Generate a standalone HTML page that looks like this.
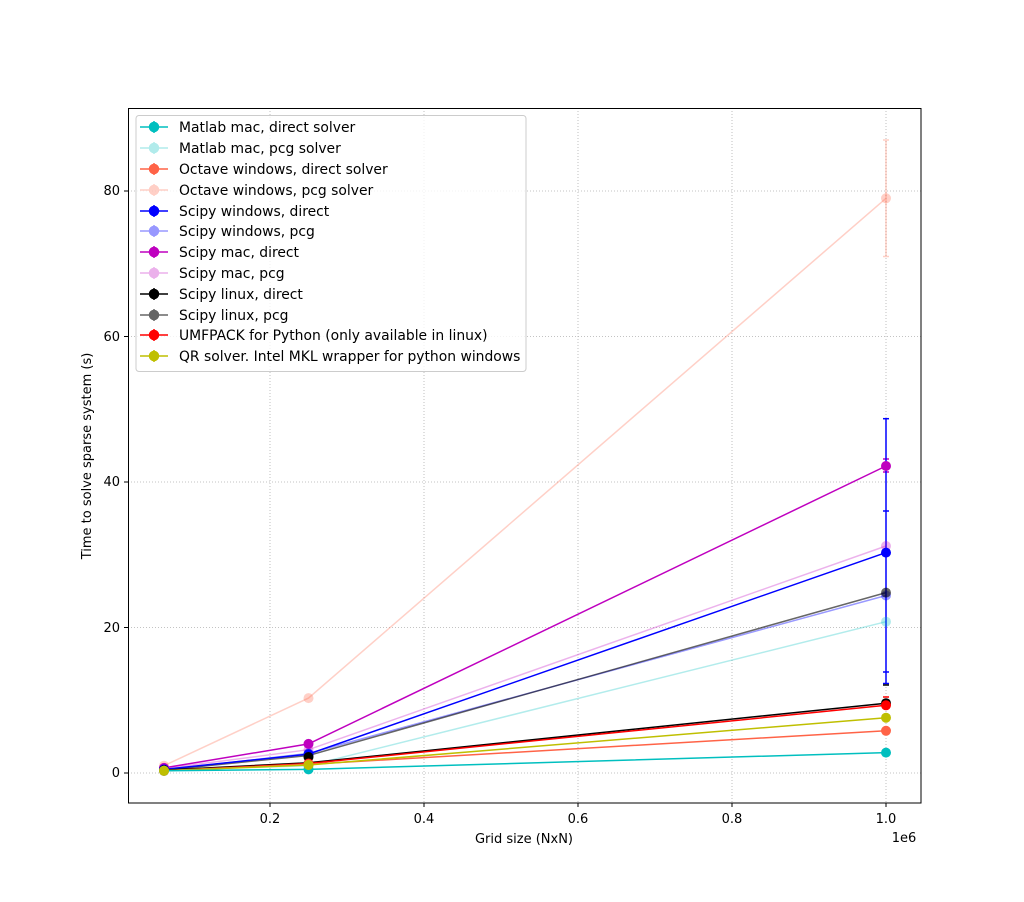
<!DOCTYPE html>
<html><head><meta charset="utf-8"><style>body{margin:0;background:#fff}svg{display:block;font-family:"DejaVu Sans","Liberation Sans",sans-serif}</style></head><body>
<svg width="1024" height="902" viewBox="0 0 1024 902" xmlns="http://www.w3.org/2000/svg">
<rect width="1024" height="902" fill="#fff"/>
<g stroke="#b0b0b0" stroke-width="0.8" stroke-dasharray="1,2">
<line x1="270" y1="108" x2="270" y2="803"/><line x1="424" y1="108" x2="424" y2="803"/><line x1="578" y1="108" x2="578" y2="803"/><line x1="732" y1="108" x2="732" y2="803"/><line x1="886" y1="108" x2="886" y2="803"/>
<line x1="128" y1="773" x2="921" y2="773"/><line x1="128" y1="627.5" x2="921" y2="627.5"/><line x1="128" y1="482" x2="921" y2="482"/><line x1="128" y1="336.5" x2="921" y2="336.5"/><line x1="128" y1="191" x2="921" y2="191"/>
</g>
<g fill="none" stroke-width="1.5">
<g stroke="#ff6347" opacity="0.3"><polyline points="164,765.7 308.5,698.1 886,198.3"/><line x1="886" y1="256.5" x2="886" y2="140"/><line x1="883" y1="256.5" x2="889" y2="256.5"/><line x1="883" y1="140" x2="889" y2="140"/></g>
<g stroke="#00bfbf" opacity="0.3"><polyline points="164,770.1 308.5,765.7 886,621.7"/></g>
<g stroke="#bf00bf" opacity="0.3"><polyline points="164,768.6 308.5,749.7 886,546"/></g>
<g stroke="#0000ff" opacity="0.4"><polyline points="164,770.1 308.5,753.4 886,595.5"/></g>
<g stroke="#000" opacity="0.6"><polyline points="164,770.1 308.5,755.5 886,592.6"/></g>
<g stroke="#bf00bf"><polyline points="164,767.9 308.5,743.9 886,466"/><line x1="883" y1="459" x2="889" y2="459"/><line x1="883" y1="472" x2="889" y2="472"/></g>
<g stroke="#0000ff"><polyline points="164,769.4 308.5,754.1 886,552.6"/><line x1="886" y1="683.5" x2="886" y2="418.7"/><line x1="883" y1="418.7" x2="889" y2="418.7"/><line x1="883" y1="683.5" x2="889" y2="683.5"/><line x1="883" y1="511" x2="889" y2="511"/><line x1="883" y1="672" x2="889" y2="672"/></g>
<g stroke="#000"><polyline points="164,770.1 308.5,762.8 886,703.2"/><line x1="883" y1="685" x2="889" y2="685"/></g>
<g stroke="#ff0000"><polyline points="164,770.8 308.5,763.5 886,705.3"/><line x1="883" y1="697" x2="889" y2="697"/></g>
<g stroke="#ff6347"><polyline points="164,770.8 308.5,764.3 886,730.8"/></g>
<g stroke="#bfbf00"><polyline points="164,770.8 308.5,765 886,717.7"/></g>
<g stroke="#00bfbf"><polyline points="164,770.8 308.5,769.4 886,752.6"/></g>
</g>
<g>
<g fill="#ff6347" opacity="0.3"><circle cx="164" cy="765.7" r="5"/><circle cx="308.5" cy="698.1" r="5"/><circle cx="886" cy="198.3" r="5"/></g>
<g fill="#00bfbf" opacity="0.3"><circle cx="308.5" cy="765.7" r="5"/><circle cx="886" cy="621.7" r="5"/></g>
<g fill="#bf00bf" opacity="0.3"><circle cx="308.5" cy="749.7" r="5"/><circle cx="886" cy="546" r="5"/></g>
<g fill="#0000ff" opacity="0.4"><circle cx="308.5" cy="753.4" r="5"/><circle cx="886" cy="595.5" r="5"/></g>
<g fill="#000" opacity="0.6"><circle cx="308.5" cy="755.5" r="5"/><circle cx="886" cy="592.6" r="5"/></g>
<g fill="#bf00bf"><circle cx="164" cy="767.9" r="5"/><circle cx="308.5" cy="743.9" r="5"/><circle cx="886" cy="466" r="5"/></g>
<g fill="#0000ff"><circle cx="164" cy="769.4" r="5"/><circle cx="308.5" cy="754.1" r="5"/><circle cx="886" cy="552.6" r="5"/></g>
<g fill="#000"><circle cx="164" cy="770.1" r="5"/><circle cx="308.5" cy="757" r="5"/><circle cx="886" cy="703.2" r="5"/></g>
<g fill="#ff0000"><circle cx="164" cy="770.8" r="5"/><circle cx="308.5" cy="763.5" r="5"/><circle cx="886" cy="705.3" r="5"/></g>
<g fill="#ff6347"><circle cx="164" cy="770.8" r="5"/><circle cx="308.5" cy="764.3" r="5"/><circle cx="886" cy="730.8" r="5"/></g>
<g fill="#00bfbf"><circle cx="164" cy="770.8" r="5"/><circle cx="308.5" cy="769.4" r="5"/><circle cx="886" cy="752.6" r="5"/></g>
<g fill="#bfbf00"><circle cx="164" cy="770.8" r="5"/><circle cx="308.5" cy="765" r="5"/><circle cx="886" cy="717.7" r="5"/></g>
</g>
<rect x="128.5" y="108.5" width="792.5" height="694.5" fill="none" stroke="#000" stroke-width="1"/>
<g stroke="#000"><line x1="270" y1="803" x2="270" y2="807"/><line x1="424" y1="803" x2="424" y2="807"/><line x1="578" y1="803" x2="578" y2="807"/><line x1="732" y1="803" x2="732" y2="807"/><line x1="886" y1="803" x2="886" y2="807"/>
<line x1="124" y1="773" x2="128" y2="773"/><line x1="124" y1="627.5" x2="128" y2="627.5"/><line x1="124" y1="482" x2="128" y2="482"/><line x1="124" y1="336.5" x2="128" y2="336.5"/><line x1="124" y1="191" x2="128" y2="191"/></g>
<g font-size="13" fill="#000" text-anchor="middle"><text x="270" y="823">0.2</text><text x="424" y="823">0.4</text><text x="578" y="823">0.6</text><text x="732" y="823">0.8</text><text x="886" y="823">1.0</text><text x="904" y="842">1e6</text><text x="524" y="843">Grid size (NxN)</text></g>
<g font-size="13" fill="#000" text-anchor="end"><text x="120" y="777">0</text><text x="120" y="632">20</text><text x="120" y="486">40</text><text x="120" y="341">60</text><text x="120" y="195">80</text></g>
<text transform="translate(91,456) rotate(-90)" font-size="13" text-anchor="middle">Time to solve sparse system (s)</text>
<rect x="136" y="115.5" width="390" height="256" rx="3" fill="#fff" fill-opacity="0.8" stroke="#ccc"/>
<g font-size="13.9" fill="#000">
<text x="179" y="132">Matlab mac, direct solver</text><text x="179" y="153">Matlab mac, pcg solver</text><text x="179" y="174">Octave windows, direct solver</text><text x="179" y="195">Octave windows, pcg solver</text><text x="179" y="216">Scipy windows, direct</text><text x="179" y="236">Scipy windows, pcg</text><text x="179" y="257">Scipy mac, direct</text><text x="179" y="278">Scipy mac, pcg</text><text x="179" y="299">Scipy linux, direct</text><text x="179" y="320">Scipy linux, pcg</text><text x="179" y="340">UMFPACK for Python (only available in linux)</text><text x="179" y="361">QR solver. Intel MKL wrapper for python windows</text>
</g>
<g stroke-width="1.5">
<g stroke="#00bfbf" fill="#00bfbf"><line x1="140" y1="127" x2="168" y2="127"/><line x1="154" y1="121" x2="154" y2="133"/><circle cx="154" cy="127" r="4.5"/></g>
<g stroke="#00bfbf" fill="#00bfbf" opacity="0.3"><line x1="140" y1="148" x2="168" y2="148"/><line x1="154" y1="142" x2="154" y2="154"/><circle cx="154" cy="148" r="4.5"/></g>
<g stroke="#ff6347" fill="#ff6347"><line x1="140" y1="169" x2="168" y2="169"/><line x1="154" y1="163" x2="154" y2="175"/><circle cx="154" cy="169" r="4.5"/></g>
<g stroke="#ff6347" fill="#ff6347" opacity="0.3"><line x1="140" y1="190" x2="168" y2="190"/><line x1="154" y1="184" x2="154" y2="196"/><circle cx="154" cy="190" r="4.5"/></g>
<g stroke="#0000ff" fill="#0000ff"><line x1="140" y1="211" x2="168" y2="211"/><line x1="154" y1="205" x2="154" y2="217"/><circle cx="154" cy="211" r="4.5"/></g>
<g stroke="#0000ff" fill="#0000ff" opacity="0.4"><line x1="140" y1="231" x2="168" y2="231"/><line x1="154" y1="225" x2="154" y2="237"/><circle cx="154" cy="231" r="4.5"/></g>
<g stroke="#bf00bf" fill="#bf00bf"><line x1="140" y1="252" x2="168" y2="252"/><line x1="154" y1="246" x2="154" y2="258"/><circle cx="154" cy="252" r="4.5"/></g>
<g stroke="#bf00bf" fill="#bf00bf" opacity="0.3"><line x1="140" y1="273" x2="168" y2="273"/><line x1="154" y1="267" x2="154" y2="279"/><circle cx="154" cy="273" r="4.5"/></g>
<g stroke="#000" fill="#000"><line x1="140" y1="294" x2="168" y2="294"/><line x1="154" y1="288" x2="154" y2="300"/><circle cx="154" cy="294" r="4.5"/></g>
<g stroke="#000" fill="#000" opacity="0.6"><line x1="140" y1="315" x2="168" y2="315"/><line x1="154" y1="309" x2="154" y2="321"/><circle cx="154" cy="315" r="4.5"/></g>
<g stroke="#ff0000" fill="#ff0000"><line x1="140" y1="335" x2="168" y2="335"/><line x1="154" y1="329" x2="154" y2="341"/><circle cx="154" cy="335" r="4.5"/></g>
<g stroke="#bfbf00" fill="#bfbf00"><line x1="140" y1="356" x2="168" y2="356"/><line x1="154" y1="350" x2="154" y2="362"/><circle cx="154" cy="356" r="4.5"/></g>
</g>
</svg>
</body></html>
